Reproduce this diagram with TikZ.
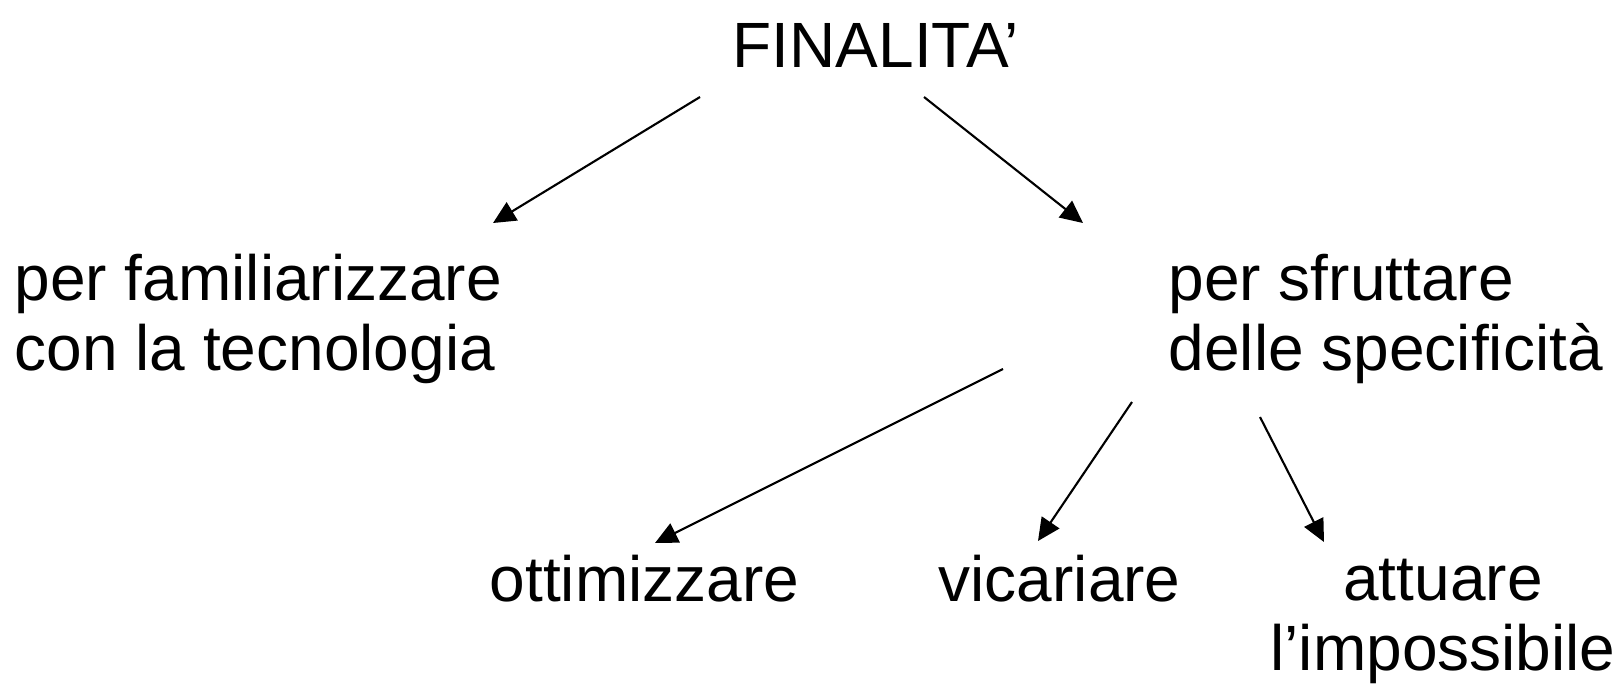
\documentclass[tikz,border=0pt]{standalone}
\usepackage{fontspec}
\setmainfont{Liberation Sans}
\usetikzlibrary{arrows.meta,calc}

\tikzset{
	lbl/.style={inner sep=0pt, font=\fontsize{18.2}{19.9}\selectfont},
	freccia/.style={-{Triangle[length=6.4pt,width=6pt]}, line width=0.6pt}
}

\begin{document}
\begin{tikzpicture}[x=0.01cm,y=-0.01cm]
		\useasboundingbox (0,0) rectangle (1624,690);
		\node[lbl,anchor=base west] (fin) at (732,67) {FINALITA’};
		\node[lbl,anchor=base west,align=left] (fam) at (14,370) {per familiarizzare\\con la tecnologia};
		\node[lbl,anchor=base west,align=left] (sfr) at (1168,370) {per sfruttare\\delle specificità};
		\node[lbl,anchor=base west] (ott) at (489,601) {ottimizzare};
		\node[lbl,anchor=base west] (vic) at (938,601) {vicariare};
		\node[lbl,anchor=base,align=center] (att) at (1443,670) {attuare\\l’impossibile};
		% frecce
		\draw[freccia] ($(fin.base west) + (-32,30)$) -- ($(fam.base west) + (479,-147)$);
		\draw[freccia] ($(fin.base west) + (192,30)$) -- ($(sfr.base west) + (-85,-147)$);
		\draw[freccia] ($(sfr.base west) + (-165,-1)$) -- ($(ott.base west) + (166,-58)$);
		\draw[freccia] ($(sfr.base west) + (-36,32)$) -- ($(vic.base west) + (100,-60)$);
		\draw[freccia] ($(sfr.base west) + (92,47)$) -- ($(att.base) + (-119,-128)$);
	\end{tikzpicture}
\end{document}
